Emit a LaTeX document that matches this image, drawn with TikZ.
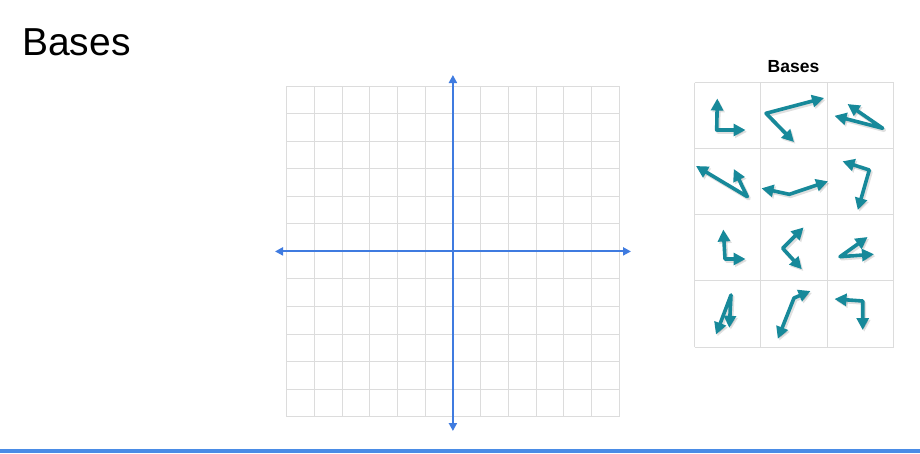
\documentclass[tikz,border=0pt]{standalone}
\usepackage{fontspec}
\setmainfont{Liberation Sans}
\usetikzlibrary{arrows.meta}
\definecolor{teal1}{HTML}{17899A}
\definecolor{axisblue}{HTML}{3F7BE0}
\definecolor{barblue}{HTML}{4A8CE6}
\definecolor{gridgray}{HTML}{DCDCDC}
\tikzset{
  gridline/.style={draw=gridgray, line width=1pt},
  axis/.style={draw=axisblue, line width=2pt, {Triangle[length=8pt,width=8pt]}-{Triangle[length=8pt,width=8pt]}},
  basis/.style={draw=teal1, line width=3.6pt, line join=round, {Triangle[length=12pt,width=12pt]}-{Triangle[length=12pt,width=12pt]}},
  basisshadow/.style={draw=black, opacity=0.12, line width=4pt, line join=round, {Triangle[length=12pt,width=12pt]}-{Triangle[length=12pt,width=12pt]}, shift={(1.5,1.8)}},
  panelline/.style={draw=gridgray, line width=1pt},
}
\newcommand{\basispair}[3]{%
  \draw[basisshadow] #1 -- #2 -- #3;
  \draw[basis] #1 -- #2 -- #3;}
\begin{document}
\begin{tikzpicture}[x=1pt,y=-1pt]
\useasboundingbox (0,0) rectangle (920,453);
\fill[white] (0,0) rectangle (920,453);
% title
\node[anchor=base west, inner sep=0pt, font=\fontsize{39}{41}\selectfont] (title) at (22,55) {Bases};
% bottom bar
\fill[barblue] (0,449) rectangle (920,453);
% main grid
\foreach \i in {0,...,12} {
  \draw[gridline] ({286.7+\i*27.7},86) -- ({286.7+\i*27.7},416.7);
  \draw[gridline] (286.7,{86+\i*27.56}) -- (619,{86+\i*27.56});
}
\coordinate (ytop) at (452.9,75);
\coordinate (ybot) at (452.9,431);
\coordinate (xl) at (275,251.4);
\coordinate (xr) at (631,251.4);
\draw[axis] (ybot) -- (ytop);
\draw[axis] (xl) -- (xr);
% panel
\node[font=\bfseries\fontsize{17.5}{19}\selectfont, inner sep=0pt] (ptitle) at (793.5,67) {Bases};
\foreach \x in {694.7,760.9,827.2,893.5} \draw[panelline] (\x,82.7) -- (\x,347);
\foreach \y in {82.7,148.8,214.9,280.9,347} \draw[panelline] (694.7,\y) -- (893.5,\y);
% bases (tip1 -- origin -- tip2)
\basispair{(717.3,98.5)}{(716.7,130)}{(745.5,130)}
\basispair{(824,98)}{(766,113.3)}{(794,142)}
\basispair{(834.5,115.8)}{(882.7,128.3)}{(847.5,104)}
\basispair{(696,166)}{(747.3,196.7)}{(733.8,169)}
\basispair{(761.5,188.3)}{(789.3,194.3)}{(828,181.3)}
\basispair{(842.5,161.3)}{(869.3,170)}{(857.8,210)}
\basispair{(723.3,229.5)}{(725,259)}{(745.5,259)}
\basispair{(803.6,227.4)}{(782.7,248.3)}{(801.8,269.2)}
\basispair{(867.6,237)}{(840,256.7)}{(874,254.2)}
\basispair{(716,334.5)}{(731,295)}{(729.3,327.8)}
\basispair{(777.8,338.8)}{(794,298)}{(810.5,291)}
\basispair{(834.5,299)}{(862.7,301)}{(862.7,330)}
\end{tikzpicture}
\end{document}
